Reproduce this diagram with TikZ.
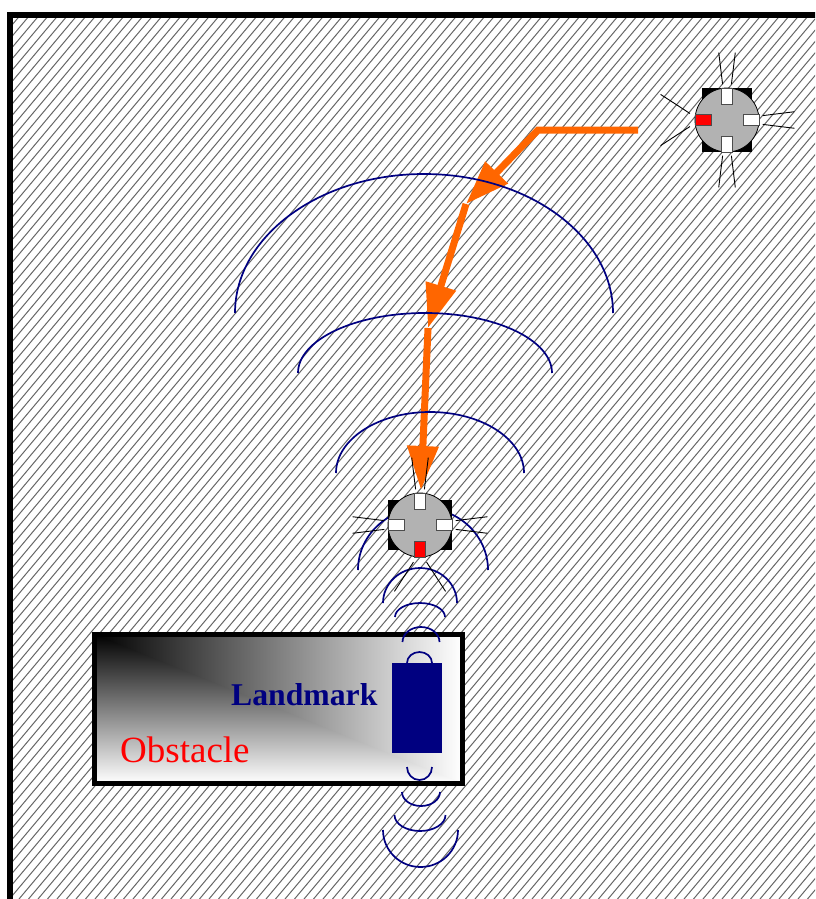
\documentclass[tikz,border=0pt]{standalone}
\usepackage{fontspec}
\setmainfont{Liberation Serif}
\usepackage{tikz}
\usetikzlibrary{arrows.meta}
\definecolor{navy}{RGB}{0,0,128}
\definecolor{track}{RGB}{255,102,0}
\definecolor{body}{RGB}{178,178,178}

% robot at (#1,#2), front sensor (red) turned by #3
\newcommand{\robot}[3]{%
  \begin{scope}[shift={(#1,#2)},rotate=#3]
    \draw[beam] (27,0) ++(33:12) -- ++(33:35);
    \draw[beam] (27,0) ++(-33:12) -- ++(-33:35);
    \foreach \a in {90,180,270}{
      \draw[beam] (\a-7:36) -- (\a-7:68);
      \draw[beam] (\a+7:36) -- (\a+7:68);
    }
    \fill (-25,-32) rectangle (25,32);
    \draw[fill=body,line width=0.8pt] (0,0) circle[radius=32pt];
    \foreach \a in {90,180,270}
      \draw[sensor,rotate=\a] (16,-5.5) rectangle (32,5.5);
    \draw[sensor,fill=red] (16,-5.5) rectangle (32,5.5);
  \end{scope}}

\begin{document}
\begin{tikzpicture}[x=1pt,y=-1pt,
    hatch/.style={black!60,line width=1pt},
    wave/.style={navy,line width=1.7pt},
    beam/.style={black,line width=0.9pt},
    sensor/.style={draw=black!70,fill=white,line width=0.7pt},
    route/.style={track,line width=7pt,-{Triangle[length=44pt,width=30pt]}}]
\clip (0,0) rectangle (815,899);

% floor
\begin{scope}
  \clip (10,15) rectangle (815,899);
  \foreach \i in {-760,-750.5,...,815}
    \draw[hatch] (\i,899) -- ++(755,-899);
\end{scope}
\draw[line width=6pt] (10,15) rectangle (850,950);

% obstacle with the landmark on it
\shade[top color=black,bottom color=white] (94,634) rectangle (462,783);
\shade[left color=black,right color=white] (94,634) -- (462,634) -- (462,783) -- cycle;
\draw[line width=5pt] (94,634) rectangle (462,783);
\fill[navy] (392,663) rectangle (442,753);
\node[navy,font=\fontsize{31.7}{34}\selectfont\bfseries,anchor=base west,inner sep=0] (landmark) at (231,705) {Landmark};
\node[red,font=\fontsize{37}{40}\selectfont,anchor=base west,inner sep=0] (obstacle) at (120,762) {Obstacle};

% path of the robot
\coordinate (start) at (638,130);
\coordinate (turn) at (538,130);
\coordinate (hop1) at (466,204);
\coordinate (hop2) at (428,328);
\coordinate (goal) at (421,490);
\draw[route] (start) -- (turn) -- (hop1);
\draw[route] (hop1) -- (hop2);
\draw[route] (hop2) -- (goal);

% signal fronts
\foreach \cx/\cy/\rx/\ry in {424/313/189/139, 425/373/127/60, 430/473/94/61,
    420/603/37/35, 420/617/25/14, 421/642/18.5/15, 419.5/663/12.5/11}
  \draw[wave] (\cx-\rx,\cy) arc[start angle=180,end angle=0,x radius=\rx pt,y radius=\ry pt];
\foreach \cx/\cy/\rx/\ry in {419.5/767/12.5/13, 421/792/19/14, 420/815/25.5/16, 420.5/830/37.5/37}
  \draw[wave] (\cx-\rx,\cy) arc[start angle=180,end angle=360,x radius=\rx pt,y radius=\ry pt];
\draw[wave] (358,570) arc[start angle=180,end angle=0,x radius=65pt,y radius=62pt];

\robot{420}{525}{270}
\robot{727}{120}{180}
\end{tikzpicture}
\end{document}
